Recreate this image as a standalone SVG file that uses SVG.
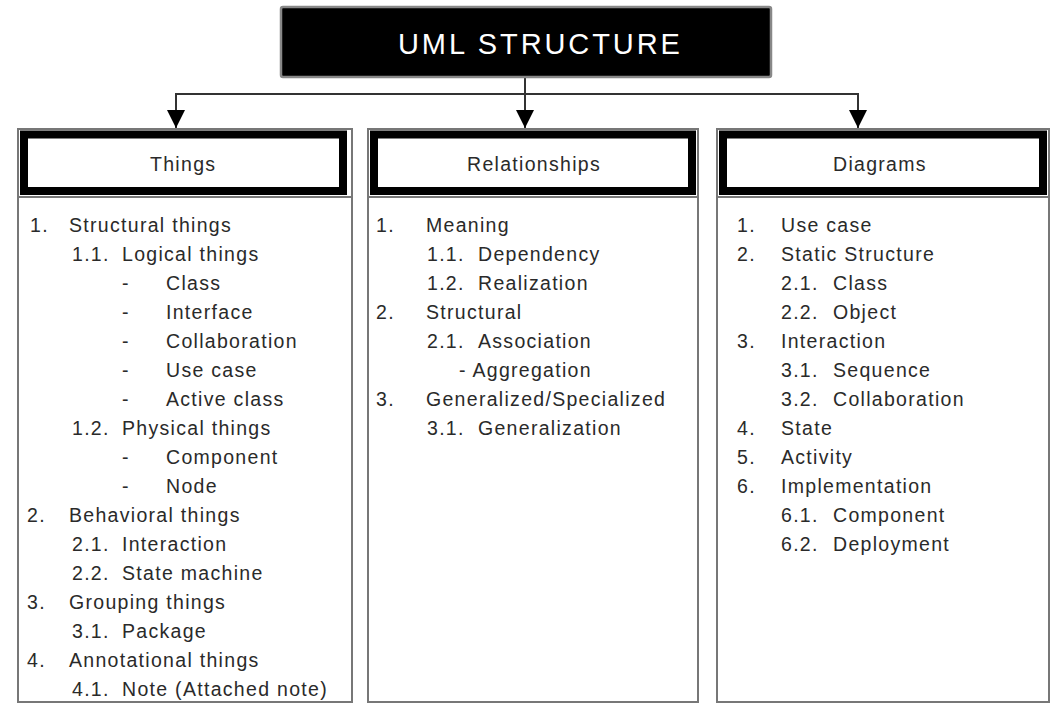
<svg xmlns="http://www.w3.org/2000/svg" width="1053" height="704" viewBox="0 0 1053 704">
<style>
.t{font-family:"Liberation Sans",Arial,sans-serif;font-size:19.5px;letter-spacing:1.3px;fill:#2a2a2a}
.title{font-family:"Liberation Sans",Arial,sans-serif;font-size:29px;letter-spacing:2.9px;fill:#fff}
.outer{fill:#fff;stroke:#777;stroke-width:2}
.hdr{fill:none;stroke:#000;stroke-width:8}
.sep{stroke:#777;stroke-width:2}
.conn{stroke:#333;stroke-width:2;fill:none}
</style>
<defs>
<marker id="ah" markerWidth="20" markerHeight="18" refX="20" refY="10" orient="auto" markerUnits="userSpaceOnUse" viewBox="0 0 20 20">
<path d="M0,0 L20,10 L0,20 Z" fill="#000"/>
</marker>
</defs>
<rect width="1053" height="704" fill="#fff"/>
<g id="connectors">
<line class="conn" x1="525" y1="77" x2="525" y2="128" marker-end="url(#ah)"/>
<line class="conn" x1="176" y1="94" x2="858" y2="94"/>
<line class="conn" x1="176" y1="93" x2="176" y2="128" marker-end="url(#ah)"/>
<line class="conn" x1="858" y1="93" x2="858" y2="128" marker-end="url(#ah)"/>
</g>
<g id="uml-structure">
<rect x="281" y="7" width="490" height="70" rx="2" fill="#000" stroke="#888" stroke-width="2.5"/>
<text class="title" x="398" y="54">UML STRUCTURE</text>
</g>
<g id="things">
<rect class="outer" x="18" y="129" width="334" height="573"/>
<line class="sep" x1="18" y1="197" x2="352" y2="197"/>
<rect class="hdr" x="24" y="134.5" width="319" height="56.5"/>
<text class="t" x="150" y="171">Things</text>
<text class="t" x="30" y="232">1.</text><text class="t" x="69" y="232">Structural things</text>
<text class="t" x="72" y="261">1.1.</text><text class="t" x="122" y="261">Logical things</text>
<text class="t" x="122" y="290">-</text><text class="t" x="166" y="290">Class</text>
<text class="t" x="122" y="319">-</text><text class="t" x="166" y="319">Interface</text>
<text class="t" x="122" y="348">-</text><text class="t" x="166" y="348">Collaboration</text>
<text class="t" x="122" y="377">-</text><text class="t" x="166" y="377">Use case</text>
<text class="t" x="122" y="406">-</text><text class="t" x="166" y="406">Active class</text>
<text class="t" x="72" y="435">1.2.</text><text class="t" x="122" y="435">Physical things</text>
<text class="t" x="122" y="464">-</text><text class="t" x="166" y="464">Component</text>
<text class="t" x="122" y="493">-</text><text class="t" x="166" y="493">Node</text>
<text class="t" x="27" y="522">2.</text><text class="t" x="69" y="522">Behavioral things</text>
<text class="t" x="72" y="551">2.1.</text><text class="t" x="122" y="551">Interaction</text>
<text class="t" x="72" y="580">2.2.</text><text class="t" x="122" y="580">State machine</text>
<text class="t" x="27" y="609">3.</text><text class="t" x="69" y="609">Grouping things</text>
<text class="t" x="72" y="638">3.1.</text><text class="t" x="122" y="638">Package</text>
<text class="t" x="27" y="667">4.</text><text class="t" x="69" y="667">Annotational things</text>
<text class="t" x="72" y="696">4.1.</text><text class="t" x="122" y="696">Note (Attached note)</text>
</g>
<g id="relationships">
<rect class="outer" x="368" y="129" width="330" height="573"/>
<line class="sep" x1="368" y1="197" x2="698" y2="197"/>
<rect class="hdr" x="374" y="134.5" width="318" height="56.5"/>
<text class="t" x="467" y="171">Relationships</text>
<text class="t" x="376" y="232">1.</text><text class="t" x="426" y="232">Meaning</text>
<text class="t" x="427" y="261">1.1.</text><text class="t" x="478" y="261">Dependency</text>
<text class="t" x="427" y="290">1.2.</text><text class="t" x="478" y="290">Realization</text>
<text class="t" x="376" y="319">2.</text><text class="t" x="426" y="319">Structural</text>
<text class="t" x="427" y="348">2.1.</text><text class="t" x="478" y="348">Association</text>
<text class="t" x="459" y="377">- Aggregation</text>
<text class="t" x="376" y="406">3.</text><text class="t" x="426" y="406">Generalized/Specialized</text>
<text class="t" x="427" y="435">3.1.</text><text class="t" x="478" y="435">Generalization</text>
</g>
<g id="diagrams">
<rect class="outer" x="717" y="129" width="332" height="573"/>
<line class="sep" x1="717" y1="197" x2="1049" y2="197"/>
<rect class="hdr" x="723" y="134.5" width="320" height="56.5"/>
<text class="t" x="833" y="171">Diagrams</text>
<text class="t" x="737" y="232">1.</text><text class="t" x="781" y="232">Use case</text>
<text class="t" x="737" y="261">2.</text><text class="t" x="781" y="261">Static Structure</text>
<text class="t" x="781" y="290">2.1.</text><text class="t" x="833" y="290">Class</text>
<text class="t" x="781" y="319">2.2.</text><text class="t" x="833" y="319">Object</text>
<text class="t" x="737" y="348">3.</text><text class="t" x="781" y="348">Interaction</text>
<text class="t" x="781" y="377">3.1.</text><text class="t" x="833" y="377">Sequence</text>
<text class="t" x="781" y="406">3.2.</text><text class="t" x="833" y="406">Collaboration</text>
<text class="t" x="737" y="435">4.</text><text class="t" x="781" y="435">State</text>
<text class="t" x="737" y="464">5.</text><text class="t" x="781" y="464">Activity</text>
<text class="t" x="737" y="493">6.</text><text class="t" x="781" y="493">Implementation</text>
<text class="t" x="781" y="522">6.1.</text><text class="t" x="833" y="522">Component</text>
<text class="t" x="781" y="551">6.2.</text><text class="t" x="833" y="551">Deployment</text>
</g>
</svg>
